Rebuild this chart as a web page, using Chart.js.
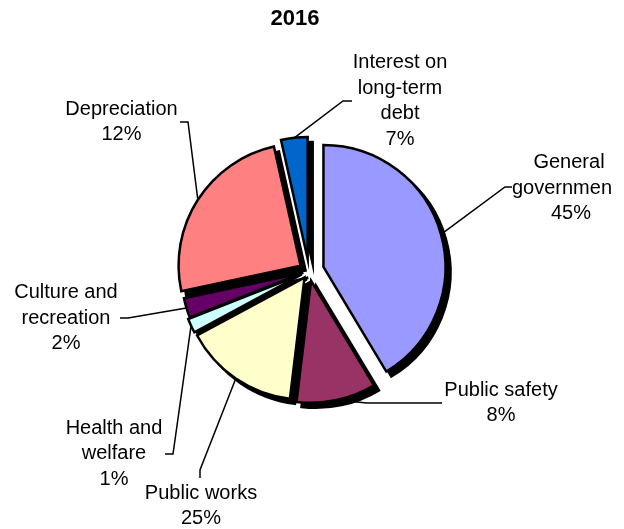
<!DOCTYPE html>
<html>
<head>
<meta charset="utf-8">
<script src="https://cdn.jsdelivr.net/npm/chart.js@4.4.0/dist/chart.umd.min.js"></script>
<style>
  html, body { margin: 0; padding: 0; background: #fff; }
  #wrap { width: 624px; height: 529px; }
</style>
</head>
<body>
<div id="wrap"><canvas id="pie" width="624" height="529"></canvas></div>
<script>
// values
const chartTitle = '2016';
const categories = ['General government', 'Public safety', 'Public works', 'Health and welfare',
  'Culture and recreation', 'Depreciation', 'Interest on long-term debt'];
// slice sizes as drawn (share of the circle, %)
const sliceShares = [41.3, 10.5, 15.2, 1.9, 2.6, 24.8, 3.5];
// percentages printed in the labels
const shownPercents = ['45%', '8%', '25%', '1%', '2%', '12%', '7%'];
// label text as it is wrapped in the picture
const labelNames = [['General', 'governmen'], ['Public safety'], ['Public works'], ['Health and', 'welfare'],
  ['Culture and', 'recreation'], ['Depreciation'], ['Interest on', 'long-term', 'debt']];

const sliceColors = ['#9999FF', '#993366', '#FFFFCC', '#CCFFFF', '#660066', '#FF8080', '#0066CC'];
const explode = [15, 10, 8, 8, 6, 10, 12];
const shadowShift = 5;

// label placement: centre x (or one per line), first line y, leader bend points
const labelPlaces = [
  { x: [569, 562, 571], y: 162.5, leader: [[505, 187], [512, 187]] },
  { x: 501, y: 390, leader: [[367, 403], [442, 403]] },
  { x: 201, y: 493, leader: [[200, 470], [200, 478]] },
  { x: 114, y: 428, leader: [[173, 454], [165, 454]] },
  { x: 66, y: 292.5, leader: [[128, 318], [120, 318]] },
  { x: 121.5, y: 109, leader: [[188, 122], [180, 122]] },
  { x: 400, y: 62.5, leader: [[343, 101], [352, 101]] }
];
const lineGap = 25.5;
const textFont = '20px "Liberation Sans", Arial, sans-serif';

const explodePlugin = {
  id: 'explode',
  afterUpdate(chart) {
    chart.getDatasetMeta(0).data.forEach((arc, i) => {
      const mid = (arc.startAngle + arc.endAngle) / 2;
      arc.x += Math.cos(mid) * explode[i];
      arc.y += Math.sin(mid) * explode[i];
    });
  }
};

// solid black drop shadows, all painted behind the slices
const shadowPlugin = {
  id: 'sliceShadow',
  beforeDatasetsDraw(chart) {
    const ctx = chart.ctx;
    ctx.save();
    ctx.translate(shadowShift, shadowShift);
    chart.getDatasetMeta(0).data.forEach(arc => {
      const saved = arc.options;
      arc.options = Object.assign({}, saved, { backgroundColor: '#000', borderColor: '#000' });
      arc.draw(ctx);
      arc.options = saved;
    });
    ctx.restore();
  }
};

const calloutPlugin = {
  id: 'callouts',
  afterDraw(chart) {
    const ctx = chart.ctx;
    const arcs = chart.getDatasetMeta(0).data;
    ctx.save();

    ctx.fillStyle = '#000';
    ctx.textAlign = 'center';
    ctx.textBaseline = 'middle';
    ctx.font = 'bold 22px "Liberation Sans", Arial, sans-serif';
    ctx.fillText(chartTitle, 295, 19);

    ctx.strokeStyle = '#000';
    ctx.lineWidth = 1.5;
    arcs.forEach((arc, i) => {
      const mid = (arc.startAngle + arc.endAngle) / 2;
      ctx.beginPath();
      ctx.moveTo(arc.x + Math.cos(mid) * arc.outerRadius, arc.y + Math.sin(mid) * arc.outerRadius);
      labelPlaces[i].leader.forEach(p => ctx.lineTo(p[0], p[1]));
      ctx.stroke();
    });

    ctx.font = textFont;
    labelNames.forEach((names, i) => {
      const place = labelPlaces[i];
      const lines = names.concat([shownPercents[i]]);
      lines.forEach((txt, k) => {
        const x = Array.isArray(place.x) ? place.x[k] : place.x;
        ctx.fillText(txt, x, place.y + k * lineGap);
      });
    });
    ctx.restore();
  }
};

new Chart(document.getElementById('pie'), {
  type: 'pie',
  data: {
    labels: categories,
    datasets: [{
      data: sliceShares,
      backgroundColor: sliceColors,
      borderColor: '#000',
      borderWidth: 2.5,
      borderJoinStyle: 'miter',
      radius: 122
    }]
  },
  options: {
    responsive: false,
    animation: false,
    events: [],
    layout: { padding: { left: 0, right: 6, top: 13, bottom: 0 } },
    plugins: {
      legend: { display: false },
      tooltip: { enabled: false },
      title: { display: false }
    }
  },
  plugins: [explodePlugin, shadowPlugin, calloutPlugin]
});
</script>
</body>
</html>
